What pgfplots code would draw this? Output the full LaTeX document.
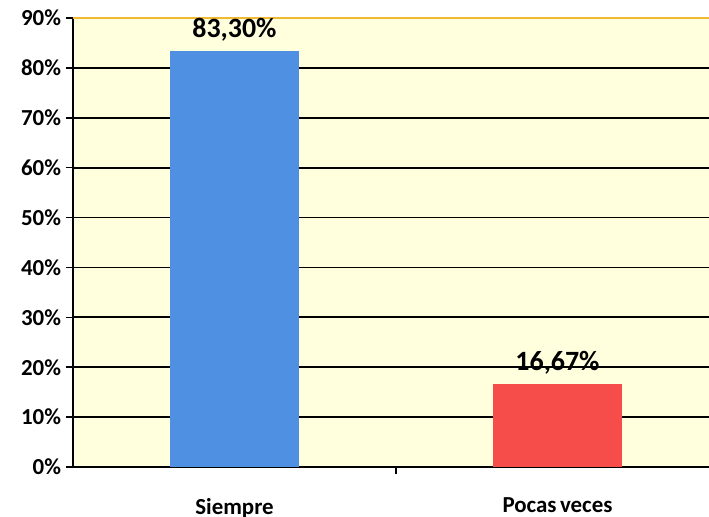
\documentclass[border=0pt]{standalone}
\usepackage{pgfplots}
\pgfplotsset{compat=1.18}
\usepackage{fontspec}
\setmainfont{Carlito}
\definecolor{bgyel}{RGB}{255,255,221}
\definecolor{barblue}{RGB}{80,144,226}
\definecolor{barred}{RGB}{246,76,74}
\definecolor{topline}{RGB}{240,185,50}
\begin{document}
\begin{tikzpicture}
\begin{axis}[name=ax, at={(0,0)}, anchor=south west, scale only axis,
  width=318bp, height=224.5bp,
  xmin=-0.5, xmax=1.469, ymin=0, ymax=90,
  ybar,
  axis lines*=left,
  axis background/.style={fill=bgyel},
  axis line style={black, line width=1bp},
  ytick={0,10,...,80},
  yticklabels={0\%,10\%,20\%,30\%,40\%,50\%,60\%,70\%,80\%},
  extra y ticks={90}, extra y tick labels={90\%},
  extra y tick style={major grid style={topline, line width=1bp}},
  ymajorgrids, major grid style={black, line width=0.9bp},
  tick align=outside, major tick length=3.5bp,
  tick style={black, line width=0.8bp},
  yticklabel style={xshift=1bp},
  xtick={0.5}, xticklabels={},
  extra x ticks={0,1}, extra x tick labels={Siempre,Pocas\hspace{0.15em}veces},
  extra x tick style={major tick length=0pt, xticklabel style={yshift=-12bp}},
  ticklabel style={font=\fontsize{11.5}{13}\selectfont\bfseries},
  xticklabel style={font=\fontsize{11.5}{13}\selectfont\bfseries},
  /pgf/number format/assume math mode=true,
  point meta=explicit symbolic,
  nodes near coords,
  nodes near coords style={font=\fontsize{14}{16}\selectfont\bfseries, anchor=south, yshift=1.5bp},
]
\addplot[ybar, bar width=0.4, bar shift=0pt, fill=barblue, draw=none] coordinates {(0,83.3) [{83,30\%}]};
\addplot[ybar, bar width=0.4, bar shift=0pt, fill=barred, draw=none] coordinates {(1,16.67) [{16,67\%}]};
\end{axis}
\pgfresetboundingbox
\path (ax.south west) ++(-36.5bp,-25bp) rectangle ++(354.5bp,258.5bp);
\end{tikzpicture}
\end{document}
